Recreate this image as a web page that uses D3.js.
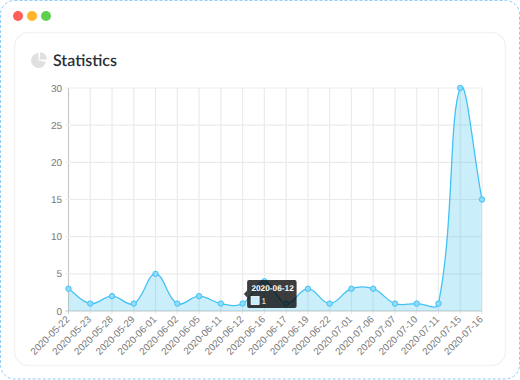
<!DOCTYPE html>
<html><head><meta charset="utf-8">
<script src="https://cdn.jsdelivr.net/npm/d3@7/dist/d3.min.js"></script>
<style>html,body{margin:0;padding:0;background:#fff;overflow:hidden}svg{display:block}text{text-rendering:geometricPrecision}</style>
</head><body><svg id="c" width="520" height="380"></svg>
<script>
const dates=["2020-05-22","2020-05-23","2020-05-28","2020-05-29","2020-06-01","2020-06-02","2020-06-05","2020-06-11","2020-06-12","2020-06-16","2020-06-17","2020-06-19","2020-06-22","2020-07-01","2020-07-06","2020-07-07","2020-07-10","2020-07-11","2020-07-15","2020-07-16"];
const counts=[3,1,2,1,5,1,2,1,1,4,1,3,1,3,3,1,1,1,30,15];
const yTicks=[0,5,10,15,20,25,30];
const title="Statistics";
const tooltipTitle="2020-06-12";
const tooltipValue="1";
const tooltipIndex=8;
const font="'Liberation Sans',Arial,sans-serif";

const svg=d3.select("#c");
svg.append("rect").attr("x",0.5).attr("y",0.5).attr("width",519).attr("height",378.5).attr("rx",14)
  .attr("fill","#fff").attr("stroke","#8fcdf8").attr("stroke-width",1).attr("stroke-dasharray","3 2");
[["#ff5f57",18],["#ffb327",32],["#5fcf50",46]].forEach(([c,x])=>svg.append("circle").attr("cx",x).attr("cy",16).attr("r",5).attr("fill",c));
svg.append("rect").attr("x",14.5).attr("y",32.5).attr("width",491).attr("height",333).attr("rx",14)
  .attr("fill","#fff").attr("stroke","#f3f3f3").attr("stroke-width",1.5);

// icon
const arcI=d3.arc().innerRadius(0);
const ic=svg.append("g").attr("transform","translate(38.5,60.5)");
ic.append("path").attr("d",arcI({outerRadius:7.5,startAngle:0.12,endAngle:Math.PI*0.5})).attr("fill","#e0e0e0").attr("transform","translate(1,-1)");
ic.append("path").attr("d",arcI({outerRadius:7.5,startAngle:Math.PI*0.55,endAngle:Math.PI*2})).attr("fill","#e0e0e0");
svg.append("text").attr("x",53).attr("y",66).attr("font-family","Lato").attr("font-weight",600).attr("font-size",16).attr("fill","#2a3038").text(title);

const m={l:68.5,r:482,t:88,b:311};
const x=d3.scalePoint().domain(dates).range([m.l,m.r]);
const y=d3.scaleLinear().domain([0,30]).range([m.b,m.t]);
const g=svg.append("g");
g.selectAll(".v").data(dates).join("line").attr("x1",d=>x(d)).attr("x2",d=>x(d)).attr("y1",m.t).attr("y2",m.b+3)
  .attr("stroke",(d,i)=>i==0?"#c8c8c8":"#ebebeb").attr("stroke-width",1.2);
g.selectAll(".h").data(yTicks).join("line").attr("x1",m.l-3).attr("x2",m.r).attr("y1",d=>y(d)).attr("y2",d=>y(d))
  .attr("stroke",d=>d==0?"#c8c8c8":"#ebebeb").attr("stroke-width",1.2);
g.selectAll(".yl").data(yTicks).join("text").attr("x",m.l-6.5).attr("y",d=>y(d)+3.5).attr("text-anchor","end")
  .attr("font-family",font).attr("font-size",10).attr("fill","#777").text(d=>d);
g.selectAll(".xl").data(dates).join("text").attr("text-anchor","end").attr("font-family",font).attr("font-size",9.8).attr("fill","#777")
  .attr("transform",d=>`translate(${x(d)+1.5},${m.b+9}) rotate(-45)`).text(d=>d);

// Chart.js-style tension 0.4 spline
function spline(ctx){
  let pts=[],lineNo=0,inArea=false;
  return {
    areaStart(){inArea=true;lineNo=0},
    areaEnd(){ctx.closePath();inArea=false},
    lineStart(){pts=[]},
    point(a,b){pts.push([+a,+b])},
    lineEnd(){
      const n=pts.length,t=0.4,cp=pts.map((p,i)=>{
        const a=pts[Math.max(i-1,0)],c=pts[Math.min(i+1,n-1)];
        const d1=Math.hypot(p[0]-a[0],p[1]-a[1]),d2=Math.hypot(c[0]-p[0],c[1]-p[1]);
        const s=d1+d2||1,fa=t*d1/s,fb=t*d2/s;
        return [[p[0]-fa*(c[0]-a[0]),p[1]-fa*(c[1]-a[1])],[p[0]+fb*(c[0]-a[0]),p[1]+fb*(c[1]-a[1])]];
      });
      if(inArea&&lineNo>0)ctx.lineTo(pts[0][0],pts[0][1]);else ctx.moveTo(pts[0][0],pts[0][1]);
      for(let i=1;i<n;i++)ctx.bezierCurveTo(cp[i-1][1][0],cp[i-1][1][1],cp[i][0][0],cp[i][0][1],pts[i][0],pts[i][1]);
      lineNo++;
    }
  };
}
svg.append("path").datum(counts).attr("fill","rgba(54,190,240,0.26)")
  .attr("d",d3.area().x((d,i)=>x(dates[i])).y0(m.b).y1(d=>y(d)).curve(spline));
svg.append("path").datum(counts).attr("fill","none").attr("stroke","#43c2f5").attr("stroke-width",1.3)
  .attr("d",d3.line().x((d,i)=>x(dates[i])).y(d=>y(d)).curve(spline));
svg.selectAll(".p").data(counts).join("circle").attr("cx",(d,i)=>x(dates[i])).attr("cy",d=>y(d)).attr("r",2.7)
  .attr("fill","#8edcf9").attr("stroke","#43c2f5").attr("stroke-width",1);

// tooltip
const bx=x(dates[tooltipIndex])+4.5, by=280, bh=28, bw=49.5;
const tt=svg.append("g");
tt.append("path").attr("fill","rgba(0,0,0,0.76)")
  .attr("d",`M${bx},${by+bh/2-3.5} L${bx-3.2},${by+bh/2} L${bx},${by+bh/2+3.5} Z`);
tt.append("rect").attr("x",bx).attr("y",by).attr("width",bw).attr("height",bh).attr("rx",2).attr("fill","rgba(0,0,0,0.76)");
tt.append("text").attr("x",bx+4.3).attr("y",by+11.3).attr("font-family",font).attr("font-weight",700).attr("font-size",8.3).attr("fill","#fff").text(tooltipTitle);
tt.append("rect").attr("x",bx+4).attr("y",by+16.5).attr("width",8).attr("height",8).attr("fill","#c8ecfb").attr("stroke","#fff").attr("stroke-width",0.8);
tt.append("text").attr("x",bx+14.5).attr("y",by+23.7).attr("font-family",font).attr("font-size",8.3).attr("fill","#fff").text(tooltipValue);
</script></body></html>
